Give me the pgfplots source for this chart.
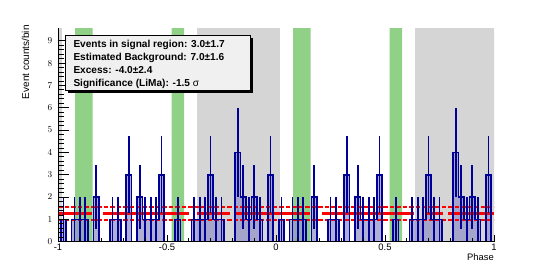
\documentclass[border=0pt]{standalone}
\usepackage{pgfplots}
\pgfplotsset{compat=1.18}
\usepackage{pgfplotstable}
\usepackage{fontspec}
\setmainfont{Liberation Sans}

\definecolor{bandgreen}{RGB}{145,208,135}
\definecolor{bandgray}{RGB}{213,213,213}
\definecolor{histblue}{RGB}{0,0,150}
\definecolor{histfill}{RGB}{150,150,200}
\definecolor{boxfill}{RGB}{240,240,240}
\definecolor{bkgred}{RGB}{255,0,0}

\pgfplotstableread{
c n e
-1.000 0 0
-0.975 1 1
-0.950 0 0
-0.925 1 1
-0.900 1 1
-0.875 1 1
-0.850 0 0
-0.825 2 1.414
-0.800 0 0
-0.775 0 0
-0.750 1 1
-0.725 1 1
-0.700 0 0
-0.675 3 1.732
-0.650 0 0
-0.625 2 1.414
-0.600 1 1
-0.575 1 1
-0.550 1 1
-0.525 3 1.732
-0.500 0 0
-0.475 0 0
-0.450 1 1
-0.425 0 0
-0.400 0 0
-0.375 1 1
-0.350 1 1
-0.325 1 1
-0.300 3 1.732
-0.275 1 1
-0.250 1 1
-0.225 0 0
-0.200 0 0
-0.175 4 2
-0.150 2 1.414
-0.125 1 1
-0.100 2 1.414
-0.075 1 1
-0.050 0 0
-0.025 3 1.732
0.000 0 0
0.025 1 1
0.050 0 0
0.075 1 1
0.100 1 1
0.125 1 1
0.150 0 0
0.175 2 1.414
0.200 0 0
0.225 0 0
0.250 1 1
0.275 1 1
0.300 0 0
0.325 3 1.732
0.350 0 0
0.375 2 1.414
0.400 1 1
0.425 1 1
0.450 1 1
0.475 3 1.732
0.500 0 0
0.525 0 0
0.550 1 1
0.575 0 0
0.600 0 0
0.625 1 1
0.650 1 1
0.675 1 1
0.700 3 1.732
0.725 1 1
0.750 1 1
0.775 0 0
0.800 0 0
0.825 4 2
0.850 2 1.414
0.875 1 1
0.900 2 1.414
0.925 1 1
0.950 0 0
0.975 3 1.732
1.000 0 0
}\hist

\begin{document}
\begin{tikzpicture}
\useasboundingbox (0,0) rectangle (552pt,269pt);
\begin{axis}[
  at={(58pt,27.3pt)}, anchor=south west,
  scale only axis, width=436pt, height=213.2pt,
  xmin=-1, xmax=1, ymin=0, ymax=9.55,
  axis x line*=bottom, axis y line=none,
  xtick={-1,-0.5,0,0.5,1},
  xticklabels={-1,-0.5,0,0.5,1},
  minor x tick num=4,
  tick align=inside,
  major tick length=6.5pt, minor tick length=3.5pt,
  tick style={black, line width=0.8pt},
  axis line style={black, line width=0.9pt},
  tick label style={font=\fontsize{9.4}{10}\selectfont},
  xticklabel style={anchor=north, inner sep=0pt, yshift=-2.5pt},
  xlabel={Phase},
  xlabel style={at={(axis description cs:1,0)}, anchor=north east, inner sep=0pt, yshift=-11.5pt, font=\fontsize{9.4}{10}\selectfont},
  axis on top,
]
% background (gray) and signal (green) phase regions
\addplot[draw=none, fill=bandgray] coordinates {(-1.01,0) (-1.01,10) (-0.982,10) (-0.982,0)} \closedcycle;
\addplot[draw=none, fill=bandgray] coordinates {(-0.362,0) (-0.362,10) (0.018,10) (0.018,0)} \closedcycle;
\addplot[draw=none, fill=bandgray] coordinates {(0.638,0) (0.638,10) (1.01,10) (1.01,0)} \closedcycle;
\addplot[draw=none, fill=bandgreen] coordinates {(-0.922,0) (-0.922,10) (-0.841,10) (-0.841,0)} \closedcycle;
\addplot[draw=none, fill=bandgreen] coordinates {(-0.479,0) (-0.479,10) (-0.421,10) (-0.421,0)} \closedcycle;
\addplot[draw=none, fill=bandgreen] coordinates {(0.078,0) (0.078,10) (0.159,10) (0.159,0)} \closedcycle;
\addplot[draw=none, fill=bandgreen] coordinates {(0.521,0) (0.521,10) (0.579,10) (0.579,0)} \closedcycle;
% histogram fill
\addplot[const plot, draw=none, fill=histfill, fill opacity=0.75] table[x expr=\thisrow{c}-0.0125, y=n] {\hist} \closedcycle;
% background level
\addplot[draw=bkgred, line width=2.2pt, unbounded coords=jump] coordinates {
 (-1,1.26) (-0.843,1.26) (-0.82,nan) (-0.795,1.26) (-0.40,1.26) (-0.38,nan)
 (-0.362,1.26) (-0.211,1.26) (-0.2,nan) (-0.188,1.26) (0.155,1.26) (0.18,nan)
 (0.21,1.26) (0.633,1.26) (0.66,nan) (0.69,1.26) (0.765,1.26) (0.775,nan) (0.788,1.26) (1,1.26)};
\addplot[draw=bkgred, line width=1.2pt, dash pattern=on 4.5pt off 2pt] coordinates {(-1,1.55) (1,1.55)};
\addplot[draw=bkgred, line width=1.2pt, dash pattern=on 4.5pt off 2pt] coordinates {(-1,0.97) (1,0.97)};
% histogram outline and errors
\addplot[const plot, draw=histblue, line width=1.7pt] table[x expr=\thisrow{c}-0.0125, y=n] {\hist};
\addplot[draw=none, mark=none, restrict y to domain=0.5:20,
  error bars/.cd, y dir=both, y explicit, error mark=none,
  error bar style={draw=histblue, line width=1.7pt, solid}]
  table[x=c, y=n, y error=e] {\hist};
\end{axis}
\begin{axis}[
  at={(58pt,27.3pt)}, anchor=south west,
  scale only axis, width=436pt, height=213.2pt,
  xmin=-1, xmax=1, ymin=0, ymax=9.55,
  axis y line*=left, axis x line=none,
  ytick={0,1,2,3,4,5,6,7,8,9},
  minor y tick num=4,
  tick align=inside,
  major tick length=11pt, minor tick length=5.5pt,
  tick style={black, line width=0.8pt},
  axis line style={black, line width=0.9pt},
  tick label style={font=\fontsize{9.4}{10}\selectfont},
  yticklabel style={anchor=east, inner sep=0pt, xshift=-5.5pt},
  ylabel={Event counts/bin},
  ylabel style={at={(axis description cs:-0.0654,1.016)}, anchor=south east, inner sep=0pt, font=\fontsize{10}{11}\selectfont},
]
\end{axis}
% statistics box
\fill[black] (67.5pt,176pt) rectangle (253pt,231.5pt);
\filldraw[fill=boxfill, draw=black, line width=0.8pt] (65pt,178.5pt) rectangle (250.5pt,234pt);
\begin{scope}[every node/.style={anchor=base west, inner sep=0pt, font=\bfseries\fontsize{10.1}{12}\selectfont}]
\node at (73.3pt,221.3pt) {Events in signal region: 3.0±1.7};
\node at (73.3pt,208.3pt) {Estimated Background: 7.0±1.6};
\node at (73.3pt,195.3pt) {Excess: -4.0±2.4};
\node at (73.3pt,182.3pt) {Significance (LiMa): -1.5 \textmd{σ}};
\end{scope}
\end{tikzpicture}
\end{document}
